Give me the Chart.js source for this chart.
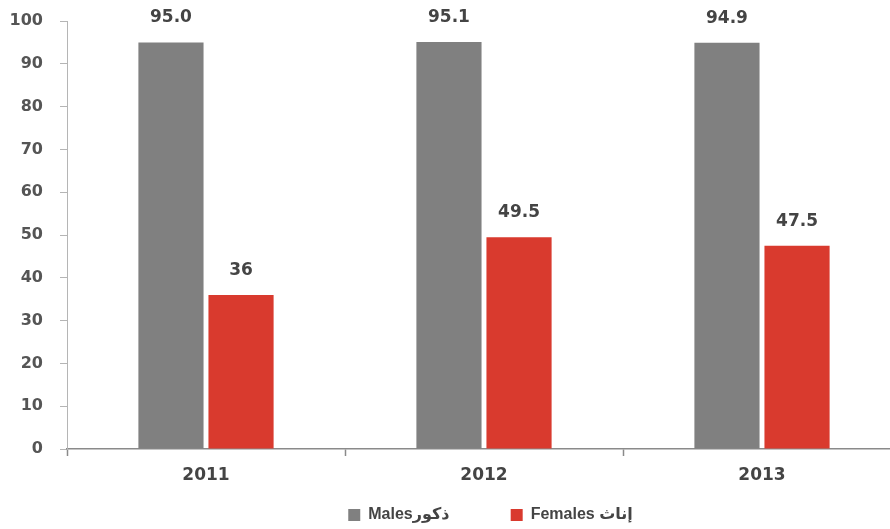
<!DOCTYPE html>
<html>
<head>
<meta charset="utf-8">
<script src="https://cdn.jsdelivr.net/npm/chart.js@4"></script>
<style>
    html, body { margin: 0; padding: 0; background: #fff; overflow: hidden; }
    #wrap { width: 901px; height: 529px; }
</style>
</head>
<body>
<div id="wrap"><canvas id="chart"></canvas></div>
<script>
// Data
const years = ['2011', '2012', '2013'];
const males = [95.0, 95.1, 94.9];
const females = [36, 49.5, 47.5];
const maleText = ['95.0', '95.1', '94.9'];
const femaleText = ['36', '49.5', '47.5'];
const seriesNames = ['Malesذكور', 'Females إناث'];

const GRAY = '#808080';
const RED = '#d93a2e';
const TEXT = '#444444';
const digitFont = { family: '"DejaVu Sans", sans-serif', size: 17, weight: 'bold' };

// Value labels above each bar
const valueLabels = {
    id: 'valueLabels',
    afterDatasetsDraw(chart) {
        const ctx = chart.ctx;
        const texts = [maleText, femaleText];
        ctx.save();
        ctx.font = 'bold 17px "DejaVu Sans", sans-serif';
        ctx.fillStyle = TEXT;
        ctx.textAlign = 'center';
        ctx.textBaseline = 'alphabetic';
        chart.data.datasets.forEach((ds, i) => {
            chart.getDatasetMeta(i).data.forEach((bar, j) => {
                ctx.fillText(texts[i][j], bar.x, bar.y - 20);
            });
        });
        ctx.restore();
    }
};

// Nudge the legend a bit to the right, as in the original
const legendShift = {
    id: 'legendShift',
    afterLayout(chart) {
        chart.legend.left += 40;
        chart.legend.right += 40;
    }
};

new Chart(document.getElementById('chart'), {
    type: 'bar',
    data: {
        labels: years,
        datasets: [
            { label: seriesNames[0], data: males, backgroundColor: GRAY, borderWidth: 0 },
            { label: seriesNames[1], data: females, backgroundColor: RED, borderWidth: 0 }
        ]
    },
    options: {
        responsive: true,
        maintainAspectRatio: false,
        animation: false,
        datasets: {
            bar: { categoryPercentage: 0.504, barPercentage: 0.93 }
        },
        layout: { padding: { top: 21, left: 0, right: 0, bottom: -4 } },
        plugins: {
            tooltip: { enabled: false },
            legend: {
                position: 'bottom',
                labels: {
                    boxWidth: 12,
                    boxHeight: 12,
                    padding: 10,
                    color: TEXT,
                    font: { family: '"Liberation Sans", "DejaVu Sans", sans-serif', size: 16, weight: 'bold' },
                    generateLabels(chart) {
                        const items = Chart.defaults.plugins.legend.labels.generateLabels(chart);
                        // wider gap after the first item
                        items[0].text += '\u2003\u2003\u2003\u2009';
                        return items;
                    }
                }
            }
        },
        scales: {
            x: {
                afterFit: (scale) => { scale.height = 48; },
                grid: {
                    drawOnChartArea: false,
                    tickLength: 7,
                    tickColor: '#8a8a8a',
                    tickWidth: 1.5
                },
                border: { color: '#8a8a8a', width: 1.5 },
                ticks: { color: TEXT, font: digitFont, padding: 9 }
            },
            y: {
                min: 0,
                max: 100,
                afterFit: (scale) => {
                    scale.width = 67;
                    scale.paddingTop = 0;
                    scale.paddingBottom = 0;
                },
                grid: {
                    drawOnChartArea: false,
                    tickLength: 7,
                    tickColor: '#b5b5b5'
                },
                border: { color: '#b5b5b5', width: 1 },
                ticks: { stepSize: 10, color: '#555555', font: { ...digitFont, size: 16 }, padding: 17 }
            }
        }
    },
    plugins: [valueLabels, legendShift]
});
</script>
</body>
</html>
